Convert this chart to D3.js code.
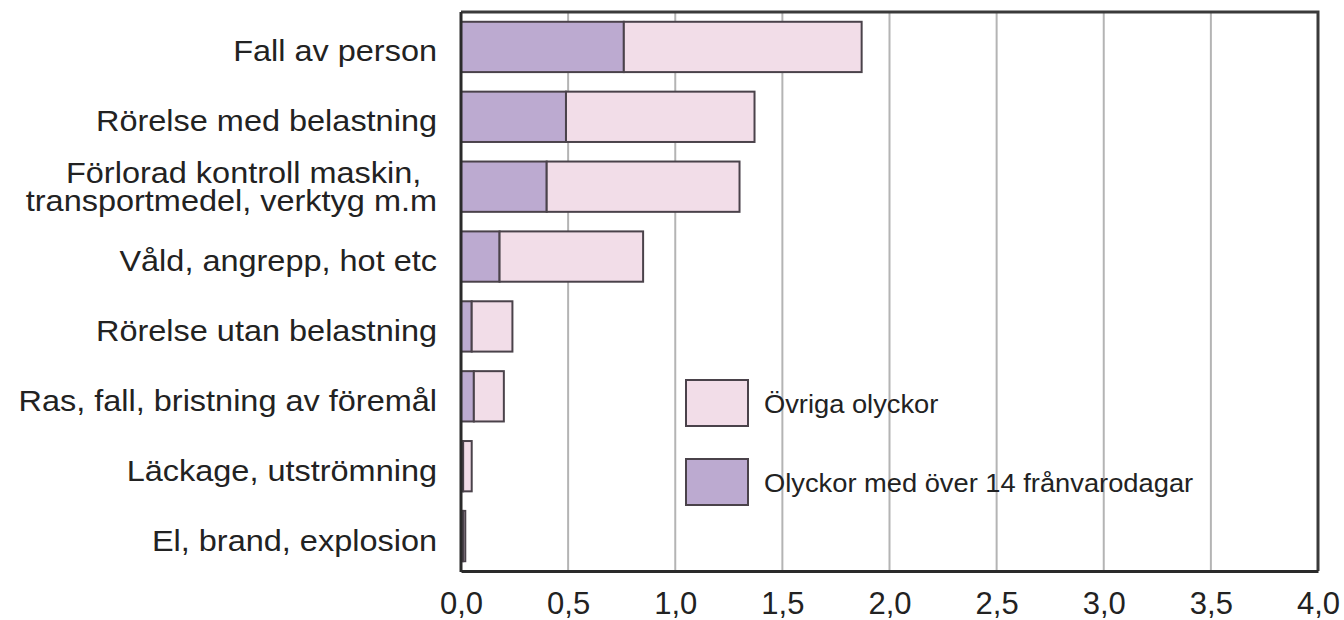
<!DOCTYPE html>
<html>
<head>
<meta charset="utf-8">
<script src="https://cdn.jsdelivr.net/npm/d3@7"></script>
<style>
  body { margin: 0; background: #fff; }
  text { font-family: "Liberation Sans", Arial, sans-serif; fill: #222; }
</style>
</head>
<body>
<div class="chart"></div>
<script>
// categories, top to bottom
var categories = [
  ['Fall av person'],
  ['Rörelse med belastning'],
  ['Förlorad kontroll maskin,', 'transportmedel, verktyg m.m'],
  ['Våld, angrepp, hot etc'],
  ['Rörelse utan belastning'],
  ['Ras, fall, bristning av föremål'],
  ['Läckage, utströmning'],
  ['El, brand, explosion']
];
var over14 = [0.76, 0.49, 0.40, 0.18, 0.05, 0.06, 0.01, 0.01];
var ovriga = [1.11, 0.88, 0.90, 0.67, 0.19, 0.14, 0.04, 0.01];
var xTicks = [0, 0.5, 1, 1.5, 2, 2.5, 3, 3.5, 4];
var legendLabels = ['Övriga olyckor', 'Olyckor med över 14 frånvarodagar'];

var width = 1344, height = 620;
var plotLeft = 461, plotRight = 1318, plotTop = 12, plotBottom = 571;

var svg = d3.select('.chart').append('svg')
  .attr('width', width)
  .attr('height', height);

var x = d3.scaleLinear().domain([0, 4]).range([plotLeft, plotRight]);
var y = d3.scaleBand().domain(d3.range(categories.length)).range([plotTop, plotBottom])
  .paddingInner(0.28).paddingOuter(0.14);

// grid lines
svg.append('g').selectAll('line')
  .data(xTicks.slice(1, -1))
  .enter().append('line')
  .attr('x1', d => x(d)).attr('x2', d => x(d))
  .attr('y1', plotTop).attr('y2', plotBottom)
  .attr('stroke', '#b4b4b4')
  .attr('stroke-width', 2);

// frame: top and right
svg.append('path')
  .attr('d', 'M' + plotLeft + ',' + plotTop + 'H' + plotRight + 'V' + plotBottom)
  .attr('fill', 'none')
  .attr('stroke', '#3a3a3a')
  .attr('stroke-width', 3);

// bars
var colors = { dark: '#bcaad0', light: '#f2dde8', stroke: '#4a424a' };
var bars = svg.append('g');
bars.selectAll('.dark')
  .data(over14)
  .enter().append('rect')
  .attr('x', x(0))
  .attr('y', (d, i) => y(i))
  .attr('width', d => x(d) - x(0))
  .attr('height', y.bandwidth())
  .attr('fill', colors.dark)
  .attr('stroke', colors.stroke)
  .attr('stroke-width', 2);
bars.selectAll('.light')
  .data(ovriga)
  .enter().append('rect')
  .attr('x', (d, i) => x(over14[i]))
  .attr('y', (d, i) => y(i))
  .attr('width', (d, i) => x(over14[i] + d) - x(over14[i]))
  .attr('height', y.bandwidth())
  .attr('fill', colors.light)
  .attr('stroke', colors.stroke)
  .attr('stroke-width', 2);

// x axis
var xAxis = svg.append('g')
  .attr('transform', 'translate(0,' + plotBottom + ')')
  .call(d3.axisBottom(x).tickValues(xTicks).tickSize(0).tickPadding(21)
    .tickFormat(d => d3.format('.1f')(d).replace('.', ',')));
xAxis.select('.domain').attr('stroke', '#2a2a2a').attr('stroke-width', 3);
xAxis.selectAll('text')
  .attr('font-size', 31)
  .attr('dy', '0.71em')
  .style('font-family', '"Liberation Sans", Arial, sans-serif')
  .attr('fill', '#222');

// y axis line
svg.append('line')
  .attr('x1', plotLeft).attr('x2', plotLeft)
  .attr('y1', plotTop).attr('y2', plotBottom + 1)
  .attr('stroke', '#2a2a2a')
  .attr('stroke-width', 3);

// category labels (slightly wide type, as in the original)
var labelX = plotLeft - 24;
var labels = svg.append('g').selectAll('text')
  .data(categories)
  .enter().append('text')
  .attr('transform', (d, i) => 'translate(' + labelX + ',' + (y(i) + y.bandwidth() / 2) + ') scale(1.12,1)')
  .attr('text-anchor', 'end')
  .attr('font-size', 29);
labels.selectAll('tspan')
  .data(d => d.map((t, j) => ({ t: t, j: j, n: d.length })))
  .enter().append('tspan')
  .attr('x', d => d.n > 1 && d.j === 0 ? -14 : 0)
  .attr('dy', d => d.n === 1 ? '0.5em' : (d.j === 0 ? '-0.12em' : '0.96em'))
  .text(d => d.t);

// legend
var legend = svg.append('g');
var legendY = [380, 459];
var legendFill = [colors.light, colors.dark];
legend.selectAll('rect')
  .data(legendLabels)
  .enter().append('rect')
  .attr('x', 686)
  .attr('y', (d, i) => legendY[i])
  .attr('width', 62)
  .attr('height', 46)
  .attr('fill', (d, i) => legendFill[i])
  .attr('stroke', colors.stroke)
  .attr('stroke-width', 2);
legend.selectAll('text')
  .data(legendLabels)
  .enter().append('text')
  .attr('transform', (d, i) => 'translate(764,' + (legendY[i] + 23) + ') scale(1.05,1)')
  .attr('dy', '0.38em')
  .attr('font-size', 26)
  .text(d => d);
</script>
</body>
</html>
